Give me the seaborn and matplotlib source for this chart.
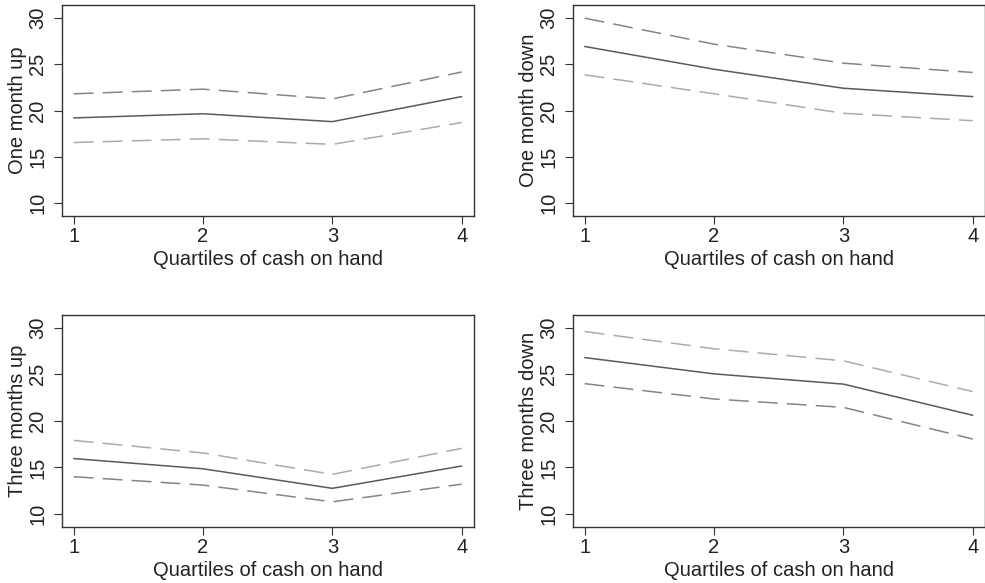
import matplotlib
matplotlib.use("Agg")
import matplotlib.pyplot as plt
import seaborn as sns
import pandas as pd

# Quartiles of cash on hand
quartiles = [1, 2, 3, 4]

# Point estimates and confidence bounds for each outcome
one_month_up = [19.2, 19.65, 18.8, 21.5]
one_month_up_hi = [21.8, 22.3, 21.25, 24.15]
one_month_up_lo = [16.55, 16.95, 16.35, 18.7]

one_month_down = [26.9, 24.45, 22.4, 21.5]
one_month_down_hi = [29.95, 27.15, 25.1, 24.1]
one_month_down_lo = [23.85, 21.8, 19.7, 18.9]

three_months_up = [15.95, 14.85, 12.75, 15.15]
three_months_up_hi = [17.9, 16.55, 14.25, 17.05]
three_months_up_lo = [14.0, 13.1, 11.3, 13.2]

three_months_down = [26.8, 25.05, 23.95, 20.6]
three_months_down_hi = [29.6, 27.75, 26.45, 23.15]
three_months_down_lo = [24.0, 22.35, 21.45, 18.05]

y_ticks = [10, 15, 20, 25, 30]
x_label = "Quartiles of cash on hand"

sns.set_style("ticks")
plt.rcParams["font.family"] = ["Liberation Sans", "DejaVu Sans"]
plt.rcParams["font.size"] = 14.5

SOLID = "#5a5a5a"
DARK_DASH = "#858585"
LIGHT_DASH = "#ababab"
DASH = (0, (13, 6))

panels = [
    ("One month up", one_month_up, one_month_up_hi, one_month_up_lo,
     DARK_DASH, LIGHT_DASH, [0.0626, 0.6295, 0.4186, 0.3619]),
    ("One month down", one_month_down, one_month_down_hi, one_month_down_lo,
     DARK_DASH, LIGHT_DASH, [0.5814, 0.6295, 0.4186, 0.3619]),
    ("Three months up", three_months_up, three_months_up_hi, three_months_up_lo,
     LIGHT_DASH, DARK_DASH, [0.0626, 0.0966, 0.4186, 0.3630]),
    ("Three months down", three_months_down, three_months_down_hi, three_months_down_lo,
     LIGHT_DASH, DARK_DASH, [0.5814, 0.0966, 0.4186, 0.3630]),
]

fig = plt.figure(figsize=(9.85, 5.83), dpi=100)

for label, est, hi, lo, hi_col, lo_col, rect in panels:
    ax = fig.add_axes(rect)
    df = pd.DataFrame({"quartile": quartiles, "est": est, "hi": hi, "lo": lo})
    sns.lineplot(data=df, x="quartile", y="hi", ax=ax, color=hi_col,
                 linewidth=1.1, linestyle=DASH)
    sns.lineplot(data=df, x="quartile", y="lo", ax=ax, color=lo_col,
                 linewidth=1.1, linestyle=DASH)
    sns.lineplot(data=df, x="quartile", y="est", ax=ax, color=SOLID,
                 linewidth=1.1)

    ax.set_xlim(0.907, 4.095)
    ax.set_ylim(8.63, 31.37)
    ax.set_xticks(quartiles)
    ax.set_yticks(y_ticks)
    ax.set_xlabel(x_label, labelpad=3, color="#222222")
    ax.set_ylabel(label, labelpad=1, color="#222222")
    ax.tick_params(axis="x", direction="out", length=6, width=0.8,
                   color="#333333", labelcolor="#222222", pad=2)
    ax.tick_params(axis="y", direction="out", length=6, width=0.8,
                   color="#333333", labelcolor="#222222", pad=4.5)
    for t in ax.get_yticklabels():
        t.set_rotation(90)
        t.set_va("center")
        t.set_ha("right")
    for sp in ax.spines.values():
        sp.set_visible(True)
        sp.set_color("#333333")
        sp.set_linewidth(1.0)

fig.savefig("out.png", dpi=100)
